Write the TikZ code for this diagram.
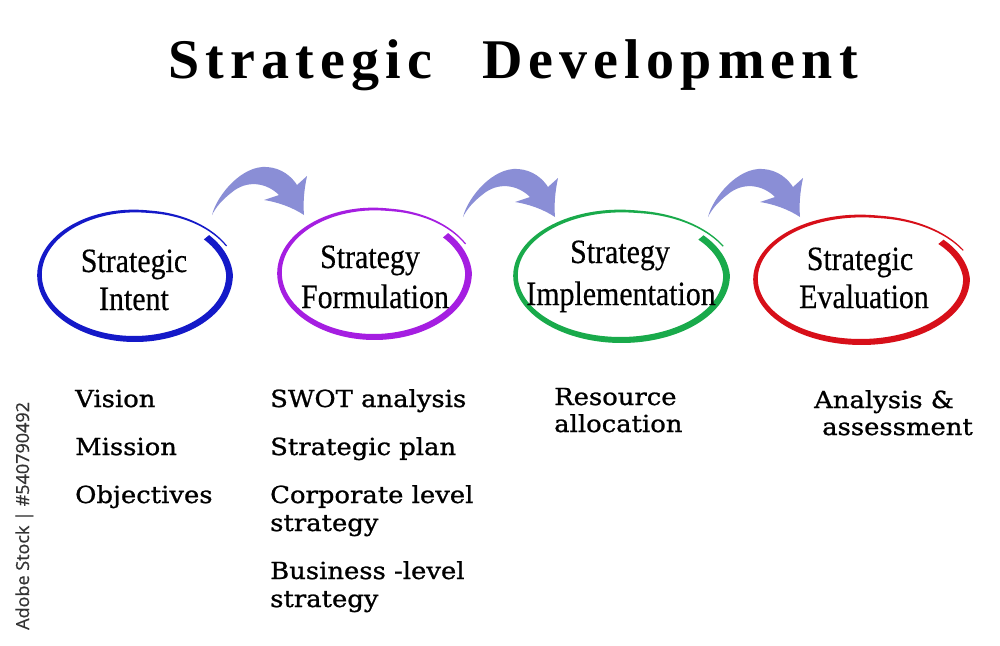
\documentclass[tikz,border=0pt]{standalone}
\usepackage{fontspec}
\usepackage{xcolor}
\usepackage{tikz}
\setmainfont{Liberation Serif}
\newfontfamily\titlefont[LetterSpace=11]{Liberation Serif}
\newfontfamily\ringfont[FakeStretch=0.88, FakeBold=0.4]{Liberation Serif}
\newfontfamily\listfont[FakeStretch=1.1, FakeBold=1]{DejaVu Serif}
\newfontfamily\stockfont[FakeBold=0.6]{Open Sans}

\definecolor{ringblue}{RGB}{20,25,200}
\definecolor{ringpurple}{RGB}{165,30,225}
\definecolor{ringgreen}{RGB}{25,170,75}
\definecolor{ringred}{RGB}{215,15,25}
\definecolor{arrowfill}{RGB}{138,142,214}

\tikzset{
    declare function={ringw(\s)=1.2+5.6*cos(90*\s);
        ringk(\s)=1+0.07*max(0,(\s-0.85)/0.15)-0.04*max(0,(0.1-\s)/0.1);},
    ringlabel/.style={anchor=base, inner sep=0pt, font=\ringfont\fontsize{34pt}{40pt}\selectfont},
    listtext/.style={anchor=base west, inner sep=0pt, font=\listfont\fontsize{23.5pt}{28pt}\selectfont},
    bendarrow/.pic={
        \fill[arrowfill] (0,0) .. controls (5,-20) and (30,-50) .. (55,-48)
        .. controls (70,-47) and (80,-38) .. (85,-30) -- (95,-39)
        .. controls (92,-25) and (91,-12) .. (92,0)
        .. controls (80,-8) and (65,-13) .. (52,-15) -- (67,-20)
        .. controls (55,-32) and (35,-36) .. (19,-22)
        .. controls (10,-15) and (4,-8) .. (0,0);
    },
}

% cx, cy, rx, ry, colour
\newcommand{\brushring}[5]{%
    \fill[#5] plot[smooth, samples=90, domain=0:1, variable=\s]
        ({#1+(#3*ringk(\s)+ringw(\s)/2)*cos(38-373*\s)}, {#2-(#4*ringk(\s)+ringw(\s)/2)*sin(38-373*\s)})
        -- plot[smooth, samples=90, domain=1:0, variable=\s]
        ({#1+(#3*ringk(\s)-ringw(\s)/2)*cos(38-373*\s)}, {#2-(#4*ringk(\s)-ringw(\s)/2)*sin(38-373*\s)})
        -- cycle;}

\begin{document}
\begin{tikzpicture}[x=1pt, y=-1pt]
    \fill[white] (0,0) rectangle (1000,645);
    \useasboundingbox (0,0) rectangle (1000,645);

    \node[anchor=base west, inner sep=0pt, font=\titlefont\bfseries\fontsize{56pt}{60pt}\selectfont]
        (title) at (168,78) {Strategic\hspace{50pt}Development};

    % rings
    \brushring{134.5}{275}{95}{64}{ringblue}
    \brushring{374}{273}{94.5}{64}{ringpurple}
    \brushring{621}{275.5}{105.5}{64.5}{ringgreen}
    \brushring{861}{279}{105.5}{63}{ringred}

    \node[ringlabel] (intentA) at (134,272) {Strategic};
    \node[ringlabel] (intentB) at (134,310) {Intent};
    \node[ringlabel] (formA) at (370,268) {Strategy};
    \node[ringlabel] (formB) at (375,308) {Formulation};
    \node[ringlabel] (implA) at (620,263) {Strategy};
    \node[ringlabel] (implB) at (621,305) {Implementation};
    \node[ringlabel] (evalA) at (860,270) {Strategic};
    \node[ringlabel] (evalB) at (864,308) {Evaluation};

    % arrows
    \pic at (212,215) {bendarrow};
    \pic at (463,217) {bendarrow};
    \pic at (708,217) {bendarrow};

    \node[listtext] (vision) at (75,407) {Vision};
    \node[listtext] (mission) at (75,455) {Mission};
    \node[listtext] (objectives) at (75,503) {Objectives};

    \node[listtext] (swot) at (270,407) {SWOT analysis};
    \node[listtext] (plan) at (270,455) {Strategic plan};
    \node[listtext] (corpA) at (270,503) {Corporate level};
    \node[listtext] (corpB) at (270,531) {strategy};
    \node[listtext] (busA) at (270,579) {Business -level};
    \node[listtext] (busB) at (270,607) {strategy};

    \node[listtext] (resA) at (554,405) {Resource};
    \node[listtext] (resB) at (554,432) {allocation};

    \node[listtext] (analA) at (814,408) {Analysis \&};
    \node[listtext] (analB) at (822,435) {assessment};

    \node[anchor=base west, inner sep=0pt, rotate=90, text=black!80,
        font=\stockfont\fontsize{18pt}{20pt}\selectfont] (stock) at (29,630) {Adobe Stock | \#540790492};
\end{tikzpicture}
\end{document}
